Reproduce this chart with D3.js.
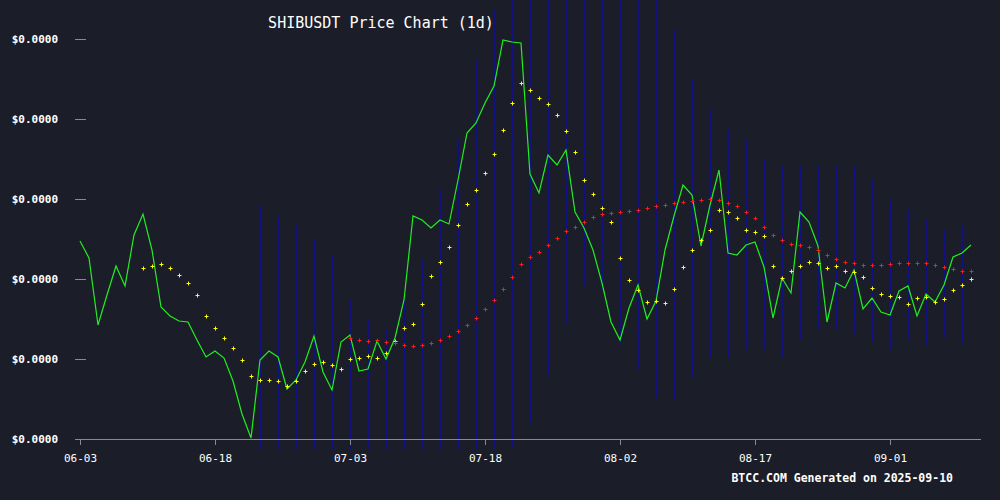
<!DOCTYPE html>
<html><head><meta charset="utf-8">
<script src="https://cdn.jsdelivr.net/npm/d3@7"></script>
<style>body{margin:0;background:#1b1e28;}svg{display:block;}</style>
</head><body>
<script>
const startDate = "2025-06-03";
const yTickLabels = ["$0.0000","$0.0000","$0.0000","$0.0000","$0.0000","$0.0000"];
const yTickValues = [0,80,160,240,320,400];
const xTickLabels = ["06-03","06-18","07-03","07-18","08-02","08-17","09-01"];
const price = [198,181,114,144,173,153,204,225,189,132,123,118,117,99,82,88,81,58,25,1,79,88,82,50,59,77,103,67,49,97,104,68,70,98,80,101,139,223,219,211,219,215,259,306,316,336,353,399,397,396,265,246,284,274,289,227,211,189,156,117,99,131,154,120,138,189,223,254,244,193,234,269,186,184,194,197,172,121,161,146,227,217,193,117,156,151,169,130,141,127,124,148,153,123,145,137,154,182,186,194];
const maShortStart = 7;
const maShort = [171,173,175,171,164,156,144,123,111,101,91,79,63,59,59,58,53,58,68,75,77,74,70,80,81,83,81,86,98,111,115,135,163,177,192,214,235,249,266,285,309,336,356,349,341,335,324,308,287,259,245,231,217,181,159,149,137,138,136,150,172,189,199,209,229,227,221,209,207,203,173,161,168,173,177,176,171,173,168,167,162,151,145,143,142,135,141,142,137,140,149,154,160];
const maLongStart = 30;
const maLong = [101,99,98,99,97,96,94,93,94,96,99,103,108,114,121,130,139,150,162,175,182,187,194,201,208,212,217,222,225,226,227,228,229,231,233,234,236,237,238,239,240,239,236,233,227,221,212,204,199,195,194,192,189,184,180,177,176,174,174,174,175,176,176,176,176,174,172,170,168,168];
const bandStart = 20;
const bandUpper = [234,229,224,214,214,204,199,199,184,159,139,129,119,109,109,104,139,149,179,204,249,269,299,339,379,409,429,450,460,470,470,470,470,470,470,470,470,470,470,470,470,470,470,460,450,429,409,379,359,339,329,319,309,304,299,289,279,274,274,274,274,274,274,274,274,274,274,269,259,249,239,234,229,224,219,214,209,214,214,214];
const bandLower = [-11,-11,-11,-11,-11,-11,-11,-11,-11,-11,-11,-11,-11,-11,-11,-11,-11,-11,-11,-11,-11,-11,-11,-11,-11,-11,-11,-18,-8,1,16,38,63,86,116,142,154,169,149,119,96,81,70,52,42,38,40,50,62,81,82,82,82,87,90,90,89,82,82,87,99,107,109,111,109,108,106,102,97,92,90,94,99,96,94,99,101,96,96,97];

const W=1000,H=500;
const svg=d3.select("body").append("svg").attr("width",W).attr("height",H).style("background","#1b1e28");
const t0=d3.timeParse("%Y-%m-%d")(startDate);
const day=i=>d3.timeDay.offset(t0,i);
const x=d3.scaleTime().domain([day(0),day(99)]).range([80,971]);
const y=d3.scaleLinear().domain([0,400]).range([439,39]);
const font="'DejaVu Sans Mono', monospace";

svg.append("g").selectAll("line").data(bandUpper).join("line")
  .attr("x1",(d,i)=>Math.round(x(day(bandStart+i)))+0.5).attr("x2",(d,i)=>Math.round(x(day(bandStart+i)))+0.5)
  .attr("y1",d=>y(d)).attr("y2",(d,i)=>y(bandLower[i]))
  .attr("stroke","#10107e").attr("stroke-width",1);

const xa=svg.append("g").attr("transform","translate(0,439)")
  .call(d3.axisBottom(x).tickValues(xTickLabels.map((_,i)=>day(i*15))).tickFormat((d,i)=>xTickLabels[i]).tickSize(6).tickSizeOuter(0));
xa.select(".domain").attr("d","M75,0.5H981");
xa.selectAll("line,path").attr("stroke","#8a8a8a");
xa.selectAll("text").attr("fill","#ffffff").attr("font-family",font).attr("font-size",11).attr("dy","1.25em");
const ya=svg.append("g").attr("transform","translate(86,0)")
  .call(d3.axisLeft(y).tickValues(yTickValues).tickFormat((d,i)=>yTickLabels[i]).tickSize(11).tickPadding(17));
ya.select(".domain").remove();
ya.selectAll("line").attr("stroke","#8a8a8a");
ya.selectAll("text").attr("fill","#ffffff").attr("font-family",font).attr("font-size",11).attr("font-weight","bold");

svg.append("path").datum(price).attr("fill","none").attr("stroke","#22ee22").attr("stroke-width",1.2)
  .attr("d",d3.line().x((d,i)=>x(day(i))).y(d=>y(d)));

function crosses(data,start,color){
  svg.append("g").selectAll("path").data(data).join("path")
    .attr("d",(d,i)=>{const cx=Math.round(x(day(start+i)))+0.5,cy=Math.round(y(d))+0.5;return `M${cx-2},${cy}H${cx+2}M${cx},${cy-2}V${cy+2}`;})
    .attr("stroke",color).attr("stroke-width",1);
}
crosses(maShort,maShortStart,"#ffff00");
crosses(maLong,maLongStart,"#ff1a1a");

svg.append("text").attr("x",381).attr("y",28).attr("text-anchor","middle").attr("fill","#fff")
  .attr("font-family",font).attr("font-size",15).text("SHIBUSDT Price Chart (1d)");
svg.append("text").attr("x",953).attr("y",482).attr("text-anchor","end").attr("fill","#fff")
  .attr("font-family",font).attr("font-size",11.5).attr("font-weight","bold").text("BTCC.COM Generated on 2025-09-10");
</script>
</body></html>
